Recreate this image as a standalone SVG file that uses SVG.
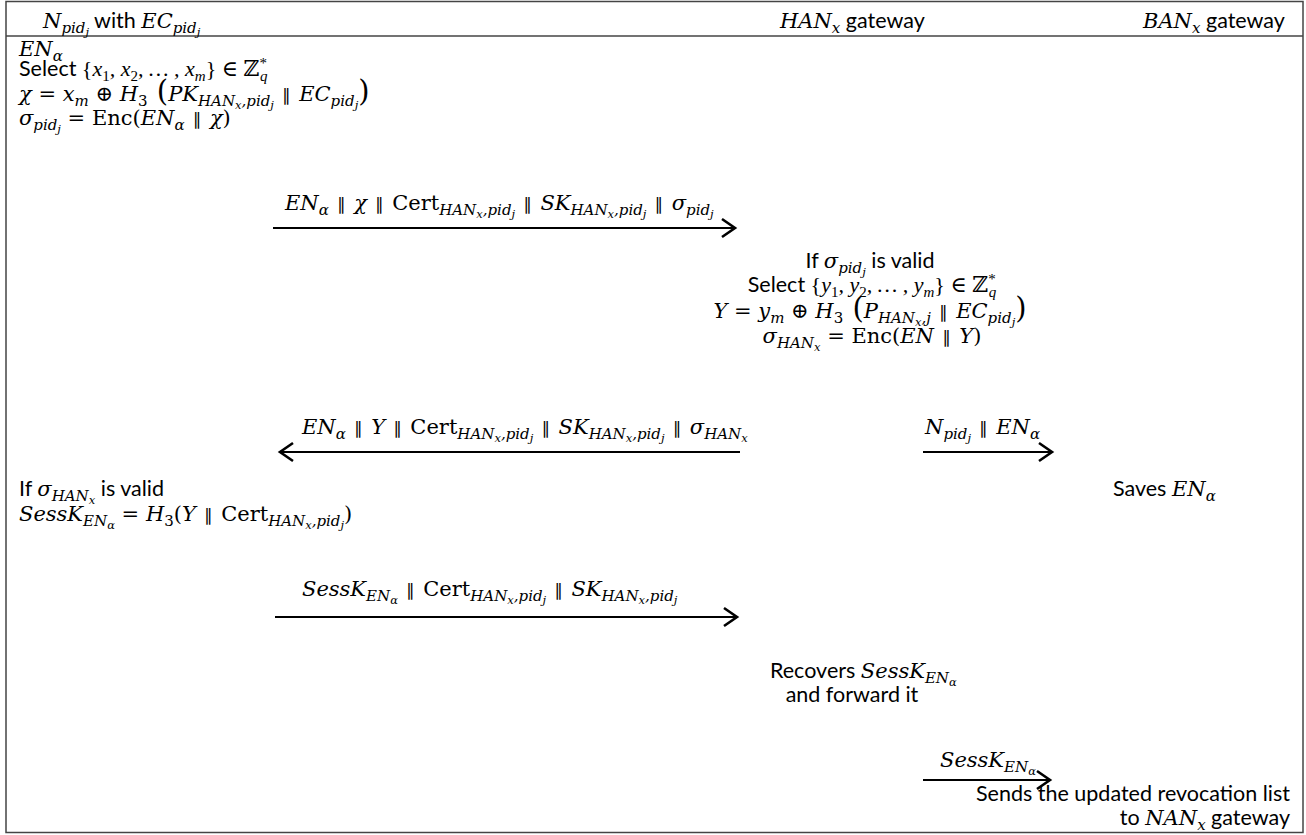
<svg xmlns="http://www.w3.org/2000/svg" width="1306" height="835" viewBox="0 0 1306 835">
<style>
.t{font-family:Lato,"Liberation Sans",sans-serif;font-size:21.5px;font-style:normal}
.m{font-family:"DejaVu Serif","Liberation Serif",serif;font-style:italic;font-size:21px;fill:#000}
.lib{font-family:"Liberation Serif","DejaVu Serif",serif;font-size:22px}
.u{font-style:normal}
.s{font-size:15px}
.ss{font-size:11.5px}
.big{font-size:29px;font-style:normal}
.p{font-family:"DejaVu Sans",sans-serif;font-style:normal;font-size:17px;word-spacing:3px}
.c{stroke:#000;stroke-width:2.2;fill:none}
.frame{fill:#fff;stroke:#444;stroke-width:1.5}
</style>
<defs>
<marker id="ah" markerUnits="userSpaceOnUse" markerWidth="20" markerHeight="22" refX="15" refY="11" orient="auto">
<path d="M2,2 L15,11 L2,20" fill="none" stroke="#000" stroke-width="2.6"/>
</marker>
</defs>
<g id="frame">
<rect class="frame" x="6" y="1.5" width="1297" height="831"/>
<line x1="6" y1="36" x2="1303" y2="36" stroke="#444" stroke-width="1.5"/>
</g>
<g id="header">
<text class="m" x="43" y="28">N<tspan class="s" dy="5">pid</tspan><tspan class="ss" dy="3">j</tspan><tspan class="t" dy="-8"> with </tspan>EC<tspan class="s" dy="5">pid</tspan><tspan class="ss" dy="3">j</tspan></text>
<text class="m" x="780" y="28">HAN<tspan class="s" dy="5">x</tspan><tspan class="t" dy="-5"> gateway</tspan></text>
<text class="m" x="1143" y="28">BAN<tspan class="s" dy="5">x</tspan><tspan class="t" dy="-5"> gateway</tspan></text>
</g>
<g id="node-device-init">
<text class="m" x="19" y="56">EN<tspan class="s" dy="5">α</tspan></text>
<text class="m lib" x="19" y="76"><tspan class="t">Select </tspan><tspan class="u">{</tspan>x<tspan class="s u" dy="5">1</tspan><tspan dy="-5">, x</tspan><tspan class="s u" dy="5">2</tspan><tspan dy="-5">, … , x</tspan><tspan class="s" dy="5">m</tspan><tspan class="u" dy="-5">} ∈ ℤ</tspan><tspan class="s u" dy="-8">*</tspan><tspan class="s" dx="-7" dy="13">q</tspan></text>
<text class="m" x="19" y="101">χ <tspan class="u">=</tspan> x<tspan class="s" dy="5">m</tspan><tspan class="u" dy="-5"> ⊕ </tspan>H<tspan class="s u" dy="5">3</tspan><tspan class="big" dy="-5"> (</tspan>PK<tspan class="s" dy="5">HAN</tspan><tspan class="ss" dy="3">x</tspan><tspan class="s" dy="-3">,pid</tspan><tspan class="ss" dy="3">j</tspan><tspan class="p" dy="-8"> ∥ </tspan>EC<tspan class="s" dy="5">pid</tspan><tspan class="ss" dy="3">j</tspan><tspan class="big" dy="-8">)</tspan></text>
<text class="m" x="19" y="125">σ<tspan class="s" dy="5">pid</tspan><tspan class="ss" dy="3">j</tspan><tspan class="u" dy="-8"> =  Enc(</tspan>EN<tspan class="s" dy="5">α</tspan><tspan class="p" dy="-5"> ∥ </tspan>χ<tspan class="u">)</tspan></text>
</g>
<g id="node-han-verify">
<text class="m" x="870" y="268" text-anchor="middle"><tspan class="t">If </tspan>σ<tspan class="s" dy="5">pid</tspan><tspan class="ss" dy="3">j</tspan><tspan class="t" dy="-8"> is valid</tspan></text>
<text class="m lib" x="872" y="292" text-anchor="middle"><tspan class="t">Select </tspan><tspan class="u">{</tspan>y<tspan class="s u" dy="5">1</tspan><tspan dy="-5">, y</tspan><tspan class="s u" dy="5">2</tspan><tspan dy="-5">, … , y</tspan><tspan class="s" dy="5">m</tspan><tspan class="u" dy="-5">} ∈ ℤ</tspan><tspan class="s u" dy="-8">*</tspan><tspan class="s" dx="-7" dy="13">q</tspan></text>
<text class="m" x="870" y="318" text-anchor="middle">Y <tspan class="u">=</tspan> y<tspan class="s" dy="5">m</tspan><tspan class="u" dy="-5"> ⊕ </tspan>H<tspan class="s u" dy="5">3</tspan><tspan class="big" dy="-5"> (</tspan>P<tspan class="s" dy="5">HAN</tspan><tspan class="ss" dy="3">x</tspan><tspan class="s" dy="-3">,j</tspan><tspan class="p" dy="-5"> ∥ </tspan>EC<tspan class="s" dy="5">pid</tspan><tspan class="ss" dy="3">j</tspan><tspan class="big" dy="-8">)</tspan></text>
<text class="m" x="872" y="343" text-anchor="middle">σ<tspan class="s" dy="5">HAN</tspan><tspan class="ss" dy="3">x</tspan><tspan class="u" dy="-8"> =  Enc(</tspan>EN<tspan class="p"> ∥ </tspan>Y<tspan class="u">)</tspan></text>
</g>
<g id="node-device-session">
<text class="m" x="19" y="496"><tspan class="t">If </tspan>σ<tspan class="s" dy="5">HAN</tspan><tspan class="ss" dy="3">x</tspan><tspan class="t" dy="-8"> is valid</tspan></text>
<text class="m" x="19" y="521">SessK<tspan class="s" dy="5">EN</tspan><tspan class="ss" dy="3">α</tspan><tspan class="u" dy="-8"> = </tspan>H<tspan class="s u" dy="5">3</tspan><tspan class="u" dy="-5">(</tspan>Y<tspan class="p"> ∥ </tspan><tspan class="u">Cert</tspan><tspan class="s" dy="5">HAN</tspan><tspan class="ss" dy="3">x</tspan><tspan class="s" dy="-3">,pid</tspan><tspan class="ss" dy="3">j</tspan><tspan class="u" dy="-8">)</tspan></text>
</g>
<g id="node-ban-save">
<text class="m" x="1113" y="496"><tspan class="t">Saves </tspan>EN<tspan class="s" dy="5">α</tspan></text>
</g>
<g id="node-han-recover">
<text class="m" x="770" y="678"><tspan class="t">Recovers </tspan>SessK<tspan class="s" dy="5">EN</tspan><tspan class="ss" dy="3">α</tspan></text>
<text class="t" x="852" y="702" text-anchor="middle">and forward it</text>
</g>
<g id="node-ban-send">
<text class="t" x="1290" y="801" text-anchor="end">Sends the updated revocation list</text>
<text class="m" x="1290" y="825" text-anchor="end"><tspan class="t">to </tspan>NAN<tspan class="s" dy="5">x</tspan><tspan class="t" dy="-5"> gateway</tspan></text>
</g>
<g id="connectors">
<line class="c" x1="273" y1="228" x2="735" y2="228" marker-end="url(#ah)"/>
<line class="c" x1="740" y1="452" x2="280" y2="452" marker-end="url(#ah)"/>
<line class="c" x1="923" y1="452" x2="1052" y2="452" marker-end="url(#ah)"/>
<line class="c" x1="275" y1="617" x2="737" y2="617" marker-end="url(#ah)"/>
<line class="c" x1="923" y1="780" x2="1050" y2="780" marker-end="url(#ah)"/>
<text class="m" x="285" y="210">EN<tspan class="s" dy="5">α</tspan><tspan class="p" dy="-5"> ∥ </tspan>χ<tspan class="p"> ∥ </tspan><tspan class="u">Cert</tspan><tspan class="s" dy="5">HAN</tspan><tspan class="ss" dy="3">x</tspan><tspan class="s" dy="-3">,pid</tspan><tspan class="ss" dy="3">j</tspan><tspan class="p" dy="-8"> ∥ </tspan>SK<tspan class="s" dy="5">HAN</tspan><tspan class="ss" dy="3">x</tspan><tspan class="s" dy="-3">,pid</tspan><tspan class="ss" dy="3">j</tspan><tspan class="p" dy="-8"> ∥ </tspan>σ<tspan class="s" dy="5">pid</tspan><tspan class="ss" dy="3">j</tspan></text>
<text class="m" x="302" y="434">EN<tspan class="s" dy="5">α</tspan><tspan class="p" dy="-5"> ∥ </tspan>Y<tspan class="p"> ∥ </tspan><tspan class="u">Cert</tspan><tspan class="s" dy="5">HAN</tspan><tspan class="ss" dy="3">x</tspan><tspan class="s" dy="-3">,pid</tspan><tspan class="ss" dy="3">j</tspan><tspan class="p" dy="-8"> ∥ </tspan>SK<tspan class="s" dy="5">HAN</tspan><tspan class="ss" dy="3">x</tspan><tspan class="s" dy="-3">,pid</tspan><tspan class="ss" dy="3">j</tspan><tspan class="p" dy="-8"> ∥ </tspan>σ<tspan class="s" dy="5">HAN</tspan><tspan class="ss" dy="3">x</tspan></text>
<text class="m" x="925" y="434">N<tspan class="s" dy="5">pid</tspan><tspan class="ss" dy="3">j</tspan><tspan class="p" dy="-8"> ∥ </tspan>EN<tspan class="s" dy="5">α</tspan></text>
<text class="m" x="302" y="596">SessK<tspan class="s" dy="5">EN</tspan><tspan class="ss" dy="3">α</tspan><tspan class="p" dy="-8"> ∥ </tspan><tspan class="u">Cert</tspan><tspan class="s" dy="5">HAN</tspan><tspan class="ss" dy="3">x</tspan><tspan class="s" dy="-3">,pid</tspan><tspan class="ss" dy="3">j</tspan><tspan class="p" dy="-8"> ∥ </tspan>SK<tspan class="s" dy="5">HAN</tspan><tspan class="ss" dy="3">x</tspan><tspan class="s" dy="-3">,pid</tspan><tspan class="ss" dy="3">j</tspan></text>
<text class="m" x="940" y="767">SessK<tspan class="s" dy="5">EN</tspan><tspan class="ss" dy="3">α</tspan></text>
</g>
</svg>
